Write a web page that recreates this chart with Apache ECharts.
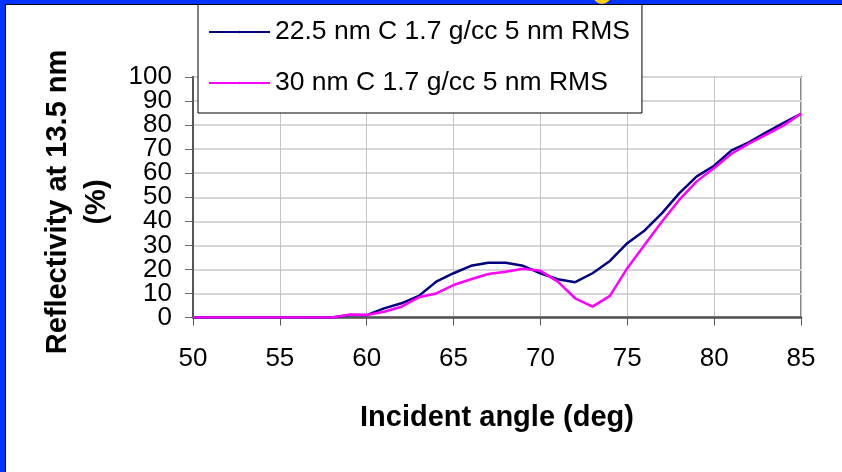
<!DOCTYPE html>
<html>
<head>
<meta charset="utf-8">
<script src="https://cdn.jsdelivr.net/npm/echarts@6/dist/echarts.min.js"></script>
<style>
  html, body { margin: 0; padding: 0; background: #fff; }
  #chart { width: 842px; height: 472px; }
</style>
</head>
<body>
<div id="chart"></div>
<script>
// incident angle (deg)
const angles = [50, 51, 52, 53, 54, 55, 56, 57, 58, 59, 60, 61, 62, 63, 64, 65, 66, 67,
                68, 69, 70, 71, 72, 73, 74, 75, 76, 77, 78, 79, 80, 81, 82, 83, 84, 85];
// reflectivity at 13.5 nm (%)
const refl225 = [0, 0, 0, 0, 0, 0, 0, 0, 0, 1, 1, 3.8, 5.9, 9, 14.9, 18.4, 21.5, 22.8,
                 22.8, 21.5, 18.4, 15.9, 14.7, 18.4, 23.5, 30.9, 36.2, 43.4, 51.7, 58.7, 63.1, 69.5, 72.8, 77, 80.9, 84.7];
const refl30 = [0, 0, 0, 0, 0, 0, 0, 0, 0, 1.2, 1, 2.4, 4.5, 8.4, 10, 13.5, 15.9, 18.1,
                19, 20.3, 19.4, 14.9, 8, 4.5, 9, 20.5, 30.2, 39.9, 49, 56.6, 62.2, 68.1, 72.3, 76, 79.9, 84.7];
const seriesNames = ['22.5 nm C 1.7 g/cc 5 nm RMS', '30 nm C 1.7 g/cc 5 nm RMS'];
const seriesColors = ['#000080', '#ff00ff'];
// y tick labels, split over two overlaid axes so the crowded labels are all kept
const yLabelsEven = [0, 20, 40, 60, 80, 100];
const yLabelsOdd = [10, 30, 50, 70, 90];

const font = "'Liberation Sans', Arial, sans-serif";

const chart = echarts.init(document.getElementById('chart'));

function pairs(ys) {
  return angles.map((a, i) => [a, ys[i]]);
}

const yLabelStyle = { fontFamily: font, fontSize: 26, color: '#000', margin: 21 };

chart.setOption({
  animation: false,
  backgroundColor: '#fff',
  grid: {
    left: 193,
    top: 77,
    right: 41,
    bottom: 154.5,
    show: true,
    borderColor: '#888',
    borderWidth: 2
  },
  legend: {
    left: 198,
    top: 0,
    orient: 'vertical',
    padding: [17, 12, 15, 10],
    itemGap: 21,
    itemWidth: 61,
    itemHeight: 3,
    backgroundColor: '#fff',
    borderColor: '#000',
    borderWidth: 1,
    borderRadius: 0,
    textStyle: { fontFamily: font, fontSize: 26.5, color: '#000', lineHeight: 30 },
    data: seriesNames
  },
  xAxis: {
    type: 'value',
    min: 50,
    max: 85,
    interval: 5,
    axisLine: { lineStyle: { color: '#555', width: 2.5 } },
    axisTick: { show: true, length: 8, lineStyle: { color: '#555', width: 1 } },
    axisLabel: { fontFamily: font, fontSize: 26, color: '#000', margin: 28, showMinLabel: true, showMaxLabel: true },
    splitLine: { show: true, lineStyle: { color: '#c4c4c4', width: 1 } }
  },
  yAxis: [
    {
      type: 'value',
      position: 'left',
      min: 0,
      max: 100,
      interval: 10,
      axisLine: { show: true, lineStyle: { color: '#555', width: 2 } },
      axisTick: { show: true, length: 8, lineStyle: { color: '#666', width: 1 } },
      axisLabel: Object.assign({ customValues: yLabelsEven }, yLabelStyle),
      splitLine: { show: true, lineStyle: { color: '#d6d6d6', width: 2 } }
    },
    {
      type: 'value',
      position: 'left',
      min: 0,
      max: 100,
      interval: 10,
      axisLine: { show: false },
      axisTick: { show: false },
      axisLabel: Object.assign({ customValues: yLabelsOdd }, yLabelStyle),
      splitLine: { show: false }
    }
  ],
  series: [
    {
      name: seriesNames[0],
      type: 'line',
      symbol: 'none',
      data: pairs(refl225),
      color: seriesColors[0],
      lineStyle: { color: seriesColors[0], width: 2.5 }
    },
    {
      name: seriesNames[1],
      type: 'line',
      symbol: 'none',
      data: pairs(refl30),
      color: seriesColors[1],
      lineStyle: { color: seriesColors[1], width: 2.5 }
    }
  ],
  graphic: [
    // slide frame: blue strip on the left and top with a thin black edge
    { type: 'rect', shape: { x: 0, y: 0, width: 5, height: 472 }, style: { fill: '#0033ff' }, z: 100 },
    { type: 'rect', shape: { x: 0, y: 0, width: 842, height: 4 }, style: { fill: '#0033ff' }, z: 100 },
    { type: 'circle', shape: { cx: 602, cy: -5, r: 9 }, style: { fill: '#ffcc00' }, z: 101 },
    { type: 'rect', shape: { x: 5, y: 4, width: 1, height: 468 }, style: { fill: '#000' }, z: 102 },
    { type: 'rect', shape: { x: 5, y: 4, width: 837, height: 1 }, style: { fill: '#000' }, z: 102 },
    {
      type: 'text',
      x: 77,
      y: 202,
      rotation: Math.PI / 2,
      style: {
        text: 'Reflectivity at 13.5 nm\n(%)',
        x: 0,
        y: 0,
        align: 'center',
        verticalAlign: 'middle',
        lineHeight: 39,
        font: "bold 29px 'Liberation Sans', Arial, sans-serif",
        fill: '#000'
      }
    },
    {
      type: 'text',
      x: 497,
      y: 418,
      style: {
        text: 'Incident angle (deg)',
        x: 0,
        y: 0,
        align: 'center',
        verticalAlign: 'middle',
        font: "bold 29px 'Liberation Sans', Arial, sans-serif",
        fill: '#000'
      }
    }
  ]
});
</script>
</body>
</html>
